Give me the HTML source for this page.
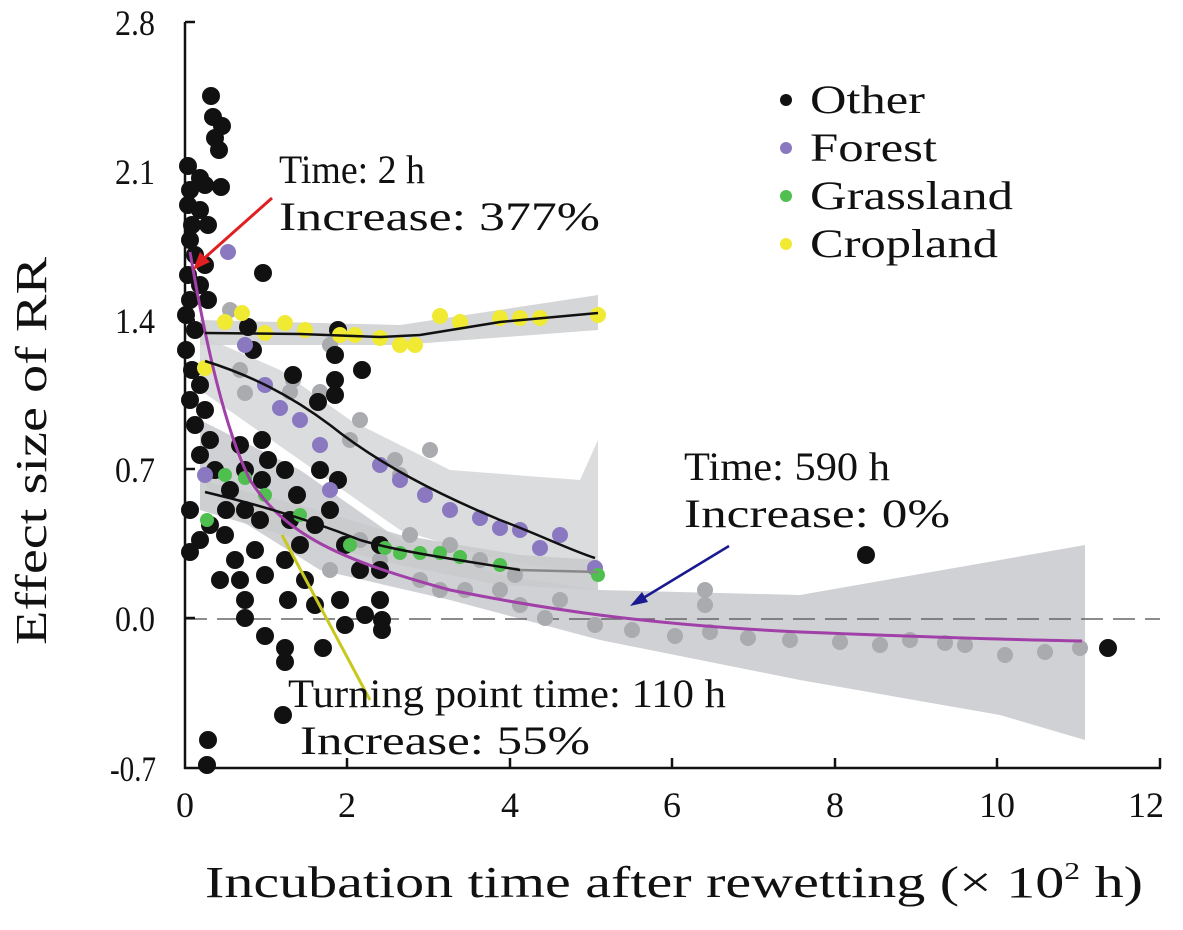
<!DOCTYPE html>
<html><head><meta charset="utf-8"><style>
body{margin:0;background:#fff}
svg text{font-family:"Liberation Serif",serif;fill:#111}
</style></head><body>
<svg width="1183" height="925" viewBox="0 0 1183 925" xmlns="http://www.w3.org/2000/svg">
<path d="M200,420 L300,470 L400,540 L500,575 L600,590 L800,595 L1000,560 L1085,545 L1085,740 L1000,715 L800,680 L600,640 L450,600 L320,570 L240,520 L200,480 Z" fill="#c8c9cc" opacity="0.85"/>
<path d="M200,335 L280,370 L350,420 L450,470 L580,480 L598,440 L598,575 L500,560 L400,530 L300,460 L200,390 Z" fill="#d5d6d8" opacity="0.85"/>
<path d="M200,320 L400,325 L598,295 L598,330 L400,345 L200,345 Z" fill="#d0d1d3" opacity="0.9"/>
<path d="M200,480 L300,505 L400,535 L520,555 L598,560 L598,590 L500,585 L400,565 L300,540 L200,510 Z" fill="#c9cacc" opacity="0.9"/>
<line x1="185" y1="619" x2="1160" y2="619" stroke="#666" stroke-width="1.5" stroke-dasharray="22,10"/>
<g fill="#a9abae">
<circle cx="230" cy="310" r="8"/><circle cx="240" cy="370" r="8"/><circle cx="245" cy="393" r="8"/><circle cx="290" cy="392" r="8"/><circle cx="330" cy="345" r="8"/><circle cx="293" cy="380" r="8"/><circle cx="320" cy="392" r="8"/><circle cx="360" cy="420" r="8"/><circle cx="350" cy="440" r="8"/><circle cx="400" cy="475" r="8"/><circle cx="430" cy="450" r="8"/><circle cx="395" cy="460" r="8"/><circle cx="360" cy="540" r="8"/><circle cx="410" cy="535" r="8"/><circle cx="450" cy="545" r="8"/><circle cx="380" cy="560" r="8"/><circle cx="330" cy="570" r="8"/><circle cx="420" cy="580" r="8"/><circle cx="440" cy="590" r="8"/><circle cx="465" cy="590" r="8"/><circle cx="480" cy="560" r="8"/><circle cx="500" cy="590" r="8"/><circle cx="520" cy="605" r="8"/><circle cx="545" cy="618" r="8"/><circle cx="515" cy="575" r="8"/><circle cx="560" cy="600" r="8"/><circle cx="595" cy="625" r="8"/><circle cx="632" cy="630" r="8"/><circle cx="675" cy="636" r="8"/><circle cx="710" cy="632" r="8"/><circle cx="748" cy="638" r="8"/><circle cx="790" cy="640" r="8"/><circle cx="840" cy="642" r="8"/><circle cx="880" cy="645" r="8"/><circle cx="910" cy="640" r="8"/><circle cx="945" cy="643" r="8"/><circle cx="965" cy="645" r="8"/><circle cx="1005" cy="655" r="8"/><circle cx="1045" cy="652" r="8"/><circle cx="1080" cy="648" r="8"/><circle cx="705" cy="590" r="8"/><circle cx="705" cy="605" r="8"/>
</g>
<g fill="#111">
<circle cx="211" cy="96" r="9"/><circle cx="213" cy="117" r="9"/><circle cx="222" cy="126" r="9"/><circle cx="215" cy="138" r="9"/><circle cx="219" cy="150" r="9"/><circle cx="188" cy="166" r="9"/><circle cx="200" cy="178" r="9"/><circle cx="190" cy="190" r="9"/><circle cx="205" cy="185" r="9"/><circle cx="221" cy="187" r="9"/><circle cx="188" cy="205" r="9"/><circle cx="200" cy="210" r="9"/><circle cx="192" cy="225" r="9"/><circle cx="208" cy="225" r="9"/><circle cx="190" cy="240" r="9"/><circle cx="195" cy="255" r="9"/><circle cx="205" cy="265" r="9"/><circle cx="188" cy="275" r="9"/><circle cx="200" cy="285" r="9"/><circle cx="190" cy="300" r="9"/><circle cx="208" cy="300" r="9"/><circle cx="186" cy="315" r="9"/><circle cx="195" cy="330" r="9"/><circle cx="186" cy="350" r="9"/><circle cx="192" cy="370" r="9"/><circle cx="200" cy="385" r="9"/><circle cx="190" cy="400" r="9"/><circle cx="205" cy="410" r="9"/><circle cx="195" cy="425" r="9"/><circle cx="210" cy="440" r="9"/><circle cx="200" cy="455" r="9"/><circle cx="215" cy="470" r="9"/><circle cx="263" cy="273" r="9"/><circle cx="248" cy="327" r="9"/><circle cx="253" cy="350" r="9"/><circle cx="338" cy="330" r="9"/><circle cx="335" cy="355" r="9"/><circle cx="362" cy="370" r="9"/><circle cx="335" cy="380" r="9"/><circle cx="335" cy="395" r="9"/><circle cx="318" cy="402" r="9"/><circle cx="293" cy="375" r="9"/><circle cx="262" cy="440" r="9"/><circle cx="240" cy="445" r="9"/><circle cx="268" cy="460" r="9"/><circle cx="245" cy="470" r="9"/><circle cx="230" cy="490" r="9"/><circle cx="262" cy="480" r="9"/><circle cx="285" cy="470" r="9"/><circle cx="297" cy="495" r="9"/><circle cx="320" cy="470" r="9"/><circle cx="338" cy="480" r="9"/><circle cx="190" cy="510" r="9"/><circle cx="210" cy="525" r="9"/><circle cx="225" cy="535" r="9"/><circle cx="245" cy="510" r="9"/><circle cx="290" cy="520" r="9"/><circle cx="315" cy="525" r="9"/><circle cx="330" cy="510" r="9"/><circle cx="345" cy="545" r="9"/><circle cx="380" cy="545" r="9"/><circle cx="360" cy="570" r="9"/><circle cx="380" cy="570" r="9"/><circle cx="235" cy="560" r="9"/><circle cx="255" cy="550" r="9"/><circle cx="265" cy="575" r="9"/><circle cx="285" cy="560" r="9"/><circle cx="305" cy="580" r="9"/><circle cx="220" cy="580" r="9"/><circle cx="245" cy="600" r="9"/><circle cx="245" cy="618" r="9"/><circle cx="288" cy="600" r="9"/><circle cx="315" cy="605" r="9"/><circle cx="340" cy="600" r="9"/><circle cx="345" cy="625" r="9"/><circle cx="365" cy="615" r="9"/><circle cx="380" cy="600" r="9"/><circle cx="382" cy="620" r="9"/><circle cx="382" cy="630" r="9"/><circle cx="285" cy="648" r="9"/><circle cx="285" cy="662" r="9"/><circle cx="323" cy="648" r="9"/><circle cx="265" cy="636" r="9"/><circle cx="283" cy="715" r="9"/><circle cx="208" cy="740" r="9"/><circle cx="207" cy="765" r="9"/><circle cx="866" cy="555" r="9"/><circle cx="1108" cy="648" r="9"/><circle cx="190" cy="552" r="9"/><circle cx="200" cy="540" r="9"/><circle cx="226" cy="510" r="9"/><circle cx="260" cy="520" r="9"/><circle cx="300" cy="545" r="9"/><circle cx="240" cy="580" r="9"/>
</g>
<g fill="#f0ea33">
<circle cx="225" cy="322" r="8"/><circle cx="242" cy="313" r="8"/><circle cx="265" cy="333" r="8"/><circle cx="285" cy="323" r="8"/><circle cx="305" cy="330" r="8"/><circle cx="340" cy="335" r="8"/><circle cx="380" cy="338" r="8"/><circle cx="400" cy="345" r="8"/><circle cx="415" cy="345" r="8"/><circle cx="440" cy="316" r="8"/><circle cx="460" cy="322" r="8"/><circle cx="500" cy="318" r="8"/><circle cx="520" cy="318" r="8"/><circle cx="540" cy="318" r="8"/><circle cx="598" cy="315" r="8"/><circle cx="205" cy="368" r="8"/><circle cx="355" cy="335" r="8"/>
</g>
<g fill="#8a78c0">
<circle cx="228" cy="252" r="8"/><circle cx="245" cy="345" r="8"/><circle cx="265" cy="385" r="8"/><circle cx="280" cy="408" r="8"/><circle cx="300" cy="420" r="8"/><circle cx="320" cy="445" r="8"/><circle cx="380" cy="465" r="8"/><circle cx="400" cy="480" r="8"/><circle cx="425" cy="495" r="8"/><circle cx="450" cy="510" r="8"/><circle cx="480" cy="518" r="8"/><circle cx="500" cy="528" r="8"/><circle cx="520" cy="530" r="8"/><circle cx="540" cy="548" r="8"/><circle cx="560" cy="535" r="8"/><circle cx="595" cy="568" r="8"/><circle cx="205" cy="475" r="8"/><circle cx="330" cy="490" r="8"/>
</g>
<g fill="#4fc04f">
<circle cx="225" cy="475" r="7"/><circle cx="245" cy="478" r="7"/><circle cx="207" cy="520" r="7"/><circle cx="265" cy="495" r="7"/><circle cx="300" cy="515" r="7"/><circle cx="350" cy="545" r="7"/><circle cx="385" cy="548" r="7"/><circle cx="400" cy="553" r="7"/><circle cx="420" cy="553" r="7"/><circle cx="440" cy="553" r="7"/><circle cx="460" cy="557" r="7"/><circle cx="500" cy="565" r="7"/><circle cx="598" cy="575" r="7"/>
</g>
<path d="M190,252 C205,340 225,430 250,480 C285,535 340,560 450,590 C550,610 650,625 800,632 C950,638 1020,640 1082,641" fill="none" stroke="#a040a8" stroke-width="3"/>
<path d="M205,333 L300,334 L380,337 L420,335 L500,322 L598,313" fill="none" stroke="#111" stroke-width="2.5"/>
<path d="M205,361 C250,375 290,395 330,425 C380,465 440,495 500,520 C540,535 570,550 595,558" fill="none" stroke="#111" stroke-width="2.5"/>
<path d="M205,492 C260,505 310,520 360,540 C400,552 460,560 520,570" fill="none" stroke="#111" stroke-width="2.5"/>
<path d="M520,570 L598,572" stroke="#888" stroke-width="2.5"/>
<line x1="272" y1="198" x2="200" y2="262" stroke="#e02020" stroke-width="3"/>
<polygon points="193,270 200,252 210,262" fill="#e02020"/>
<line x1="729" y1="546" x2="640" y2="600" stroke="#1a1a90" stroke-width="2.5"/>
<polygon points="630,606 642,592 648,602" fill="#1a1a90"/>
<line x1="370" y1="700" x2="282" y2="535" stroke="#c8c820" stroke-width="3"/>
<g stroke="#111" stroke-width="2.5">
<line x1="185" y1="22" x2="185" y2="769"/><line x1="184" y1="768" x2="1161" y2="768"/>
<line x1="185" y1="22" x2="195" y2="22"/><line x1="185" y1="171" x2="195" y2="171"/><line x1="185" y1="320" x2="195" y2="320"/><line x1="185" y1="469" x2="195" y2="469"/><line x1="185" y1="618" x2="195" y2="618"/>
<line x1="347" y1="768" x2="347" y2="758"/><line x1="510" y1="768" x2="510" y2="758"/><line x1="672" y1="768" x2="672" y2="758"/><line x1="835" y1="768" x2="835" y2="758"/><line x1="997" y1="768" x2="997" y2="758"/><line x1="1160" y1="768" x2="1160" y2="758"/>
</g>
<g font-size="36">
<text x="115" y="35" textLength="40" lengthAdjust="spacingAndGlyphs">2.8</text>
<text x="115" y="184" textLength="40" lengthAdjust="spacingAndGlyphs">2.1</text>
<text x="115" y="333" textLength="40" lengthAdjust="spacingAndGlyphs">1.4</text>
<text x="115" y="482" textLength="40" lengthAdjust="spacingAndGlyphs">0.7</text>
<text x="115" y="631" textLength="40" lengthAdjust="spacingAndGlyphs">0.0</text>
<text x="110" y="781" textLength="46" lengthAdjust="spacingAndGlyphs">-0.7</text>
</g>
<g font-size="36" text-anchor="middle">
<text x="185" y="817">0</text><text x="347" y="817">2</text><text x="510" y="817">4</text><text x="672" y="817">6</text><text x="835" y="817">8</text><text x="997" y="817">10</text><text x="1146" y="817">12</text>
</g>
<text x="205" y="897" font-size="44" textLength="938" lengthAdjust="spacingAndGlyphs">Incubation time after rewetting (× 10<tspan font-size="24" dy="-18">2</tspan><tspan dy="18"> h)</tspan></text>
<text transform="translate(46,645) rotate(-90)" font-size="44" textLength="388" lengthAdjust="spacingAndGlyphs">Effect size of RR</text>
<circle cx="786" cy="100" r="6" fill="#111"/><circle cx="786" cy="148" r="6" fill="#8a78c0"/><circle cx="786" cy="196" r="6" fill="#4fc04f"/><circle cx="786" cy="244" r="6" fill="#f0ea33"/>
<g font-size="40">
<text x="810" y="113" textLength="115" lengthAdjust="spacingAndGlyphs">Other</text>
<text x="810" y="161" textLength="127" lengthAdjust="spacingAndGlyphs">Forest</text>
<text x="810" y="209" textLength="203" lengthAdjust="spacingAndGlyphs">Grassland</text>
<text x="810" y="257" textLength="188" lengthAdjust="spacingAndGlyphs">Cropland</text>
<text x="279" y="183" textLength="146" lengthAdjust="spacingAndGlyphs">Time: 2 h</text>
<text x="279" y="230" textLength="321" lengthAdjust="spacingAndGlyphs">Increase: 377%</text>
<text x="684" y="480" textLength="206" lengthAdjust="spacingAndGlyphs">Time: 590 h</text>
<text x="684" y="527" textLength="266" lengthAdjust="spacingAndGlyphs">Increase: 0%</text>
<text x="288" y="707" textLength="438" lengthAdjust="spacingAndGlyphs">Turning point time: 110 h</text>
<text x="300" y="754" textLength="290" lengthAdjust="spacingAndGlyphs">Increase: 55%</text>
</g>
</svg>
</body></html>
